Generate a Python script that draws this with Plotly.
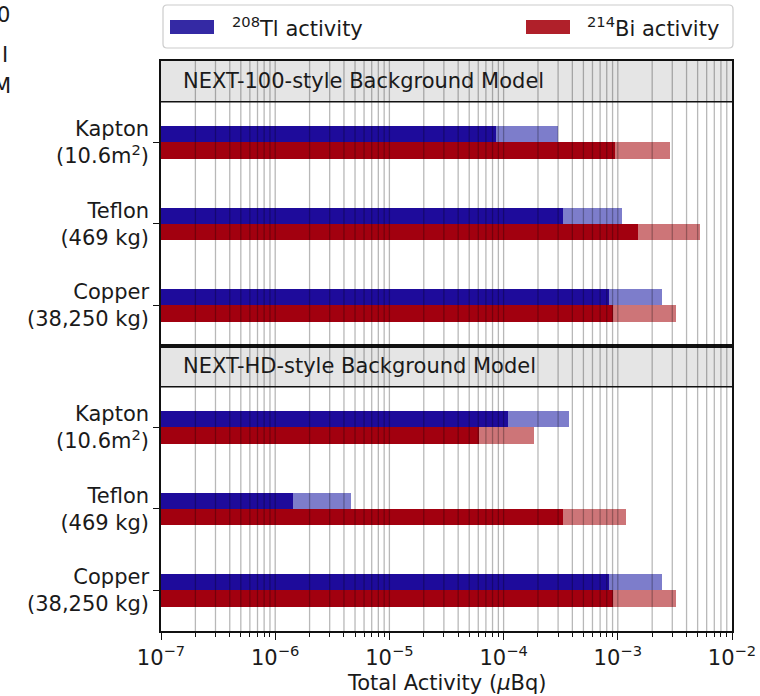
import plotly.graph_objects as go

# ---- data -------------------------------------------------------------
materials = ["Kapton<br>(10.6m<sup>2</sup>)", "Teflon<br>(469 kg)", "Copper<br>(38,250 kg)"]
positions = [2, 1, 0]

panel_titles = ["NEXT-100-style Background Model", "NEXT-HD-style Background Model"]

# NEXT-100-style model (µBq)
tl_100_central = [8.6e-5, 3.3e-4, 8.4e-4]
tl_100_upper = [3.0e-4, 1.08e-3, 2.43e-3]
bi_100_central = [9.5e-4, 1.51e-3, 9.1e-4]
bi_100_upper = [2.84e-3, 5.26e-3, 3.26e-3]

# NEXT-HD-style model (µBq)
tl_hd_central = [1.09e-4, 1.42e-6, 8.4e-4]
tl_hd_upper = [3.75e-4, 4.6e-6, 2.43e-3]
bi_hd_central = [6.1e-5, 3.33e-4, 9.1e-4]
bi_hd_upper = [1.83e-4, 1.17e-3, 3.26e-3]

x_tick_exponents = [-7, -6, -5, -4, -3, -2]

# ---- styling ----------------------------------------------------------
FONT = "DejaVu Sans"
FS = 21
TXT = "#1a1a1a"
TL_DARK, TL_LIGHT, TL_KEY = "#1e0b9b", "#7d7dcb", "#3429a4"
BI_DARK, BI_LIGHT, BI_KEY = "#a2000f", "#cd7578", "#b0202a"
HEADER_FILL = "#e5e5e5"
AXIS_LINE = "#111111"
GRID = "rgba(0,0,0,0.28)"

W, H = 760, 696
PL, PR, PT, PB = 161, 732, 61, 631


def px_x(p):
    return (p - PL) / (PR - PL)


def px_y(p):
    return (PB - p) / (PB - PT)


fig = go.Figure()

panels = [
    ("x", "y", tl_100_central, tl_100_upper, bi_100_central, bi_100_upper),
    ("x2", "y2", tl_hd_central, tl_hd_upper, bi_hd_central, bi_hd_upper),
]

BAR_W = 0.2
for xa, ya, tl_c, tl_u, bi_c, bi_u in panels:
    for vals, col, off in [
        (tl_u, TL_LIGHT, 0.0),
        (tl_c, TL_DARK, 0.0),
        (bi_u, BI_LIGHT, -BAR_W),
        (bi_c, BI_DARK, -BAR_W),
    ]:
        fig.add_trace(go.Bar(
            x=vals, y=positions, orientation="h",
            width=BAR_W, offset=off,
            marker=dict(color=col, line=dict(width=0)),
            xaxis=xa, yaxis=ya, showlegend=False,
        ))

shapes = []
annotations = []

# grid lines drawn over the bars, one set per panel
grid_x = []
for e in range(-7, -2):
    for k in range(1, 10):
        if k == 1 and e == -7:
            continue
        grid_x.append(k * 10.0 ** e)

for i, (xa, ya) in enumerate([("x", "y"), ("x2", "y2")]):
    dom_x = xa + " domain"
    dom_y = ya + " domain"
    # header band
    shapes.append(dict(type="rect", xref=dom_x, yref=ya, x0=0, x1=1, y0=2.5, y1=3.0,
                       fillcolor=HEADER_FILL, line=dict(width=0), layer="below"))
    for v in grid_x:
        shapes.append(dict(type="line", xref=xa, yref=dom_y, x0=v, x1=v, y0=0, y1=1,
                           line=dict(color=GRID, width=1.3), layer="above"))
    shapes.append(dict(type="line", xref=dom_x, yref=ya, x0=0, x1=1, y0=2.5, y1=2.5,
                       line=dict(color=AXIS_LINE, width=1.5), layer="above"))
    annotations.append(dict(text=panel_titles[i], xref="paper", yref=ya,
                            x=px_x(181), y=2.75, xanchor="left", yanchor="middle",
                            showarrow=False, font=dict(family=FONT, size=FS, color=TXT)))


# legend box with rounded corners
def rounded_rect(x0, y0, x1, y1, r):
    pts = [
        f"M {px_x(x0 + r)},{px_y(y0)}",
        f"L {px_x(x1 - r)},{px_y(y0)}",
        f"Q {px_x(x1)},{px_y(y0)} {px_x(x1)},{px_y(y0 + r)}",
        f"L {px_x(x1)},{px_y(y1 - r)}",
        f"Q {px_x(x1)},{px_y(y1)} {px_x(x1 - r)},{px_y(y1)}",
        f"L {px_x(x0 + r)},{px_y(y1)}",
        f"Q {px_x(x0)},{px_y(y1)} {px_x(x0)},{px_y(y1 - r)}",
        f"L {px_x(x0)},{px_y(y0 + r)}",
        f"Q {px_x(x0)},{px_y(y0)} {px_x(x0 + r)},{px_y(y0)}",
        "Z",
    ]
    return " ".join(pts)


shapes.append(dict(type="path", xref="paper", yref="paper", path=rounded_rect(163, 5, 733, 48, 4),
                   fillcolor="white", line=dict(color="#cccccc", width=1.2), layer="above"))
for (x0, x1), col in [((170, 214), TL_KEY), ((526, 570), BI_KEY)]:
    shapes.append(dict(type="rect", xref="paper", yref="paper",
                       x0=px_x(x0), x1=px_x(x1), y0=px_y(34), y1=px_y(20),
                       fillcolor=col, line=dict(width=0), layer="above"))
for x0, txt in [(230, "<sup>208</sup>Tl activity"), (585, "<sup>214</sup>Bi activity")]:
    annotations.append(dict(text=txt, xref="paper", yref="paper", x=px_x(x0), y=px_y(27),
                            xanchor="left", yanchor="middle", showarrow=False,
                            font=dict(family=FONT, size=FS, color=TXT)))

# labels running in from the left page edge
for x0, yc, txt in [(-5, 15, "0"), (0, 55, "I"), (-9, 86, "M")]:
    annotations.append(dict(text=txt, xref="paper", yref="paper", x=px_x(x0), y=px_y(yc),
                            xanchor="left", yanchor="middle", showarrow=False,
                            font=dict(family=FONT, size=FS, color=TXT)))

# x-axis title
annotations.append(dict(text="Total Activity (<i>\u03bc</i>Bq)", xref="paper", yref="paper",
                        x=0.5, y=px_y(683), xanchor="center", yanchor="middle",
                        showarrow=False, font=dict(family=FONT, size=FS, color=TXT)))

common_y = dict(range=[-0.5, 3.0], tickvals=positions, ticktext=materials,
                ticks="outside", ticklen=6, tickwidth=1.3, tickcolor=AXIS_LINE,
                showline=True, mirror=True, linecolor=AXIS_LINE, linewidth=1.5,
                showgrid=False, zeroline=False, fixedrange=True, automargin=False,
                tickfont=dict(family=FONT, size=FS, color=TXT))

common_x = dict(type="log", range=[-7, -2], showline=True, mirror=True, automargin=False,
                linecolor=AXIS_LINE, linewidth=1.5, showgrid=False, zeroline=False)

fig.update_layout(
    width=W, height=H,
    margin=dict(l=PL, r=W - PR, t=PT, b=H - PB, pad=0, autoexpand=False),
    paper_bgcolor="white", plot_bgcolor="white",
    barmode="overlay", bargap=0,
    showlegend=False,
    font=dict(family=FONT, size=FS, color=TXT),
    xaxis=dict(**common_x, anchor="y", domain=[0, 1], showticklabels=False, ticks=""),
    yaxis=dict(**common_y, anchor="x", domain=[0.5, 1]),
    xaxis2=dict(**common_x, anchor="y2", domain=[0, 1],
                tickvals=[10.0 ** e for e in x_tick_exponents],
                ticktext=[f"10<sup>\u2212{-e}</sup>" for e in x_tick_exponents],
                ticks="outside", ticklen=7, tickwidth=1.3, tickcolor=AXIS_LINE,
                minor=dict(ticks="outside", ticklen=4, tickwidth=1, tickcolor=AXIS_LINE,
                           tickvals=grid_x),
                tickfont=dict(family=FONT, size=FS, color=TXT)),
    yaxis2=dict(**common_y, anchor="x2", domain=[0, 0.5]),
    shapes=shapes,
    annotations=annotations,
)

fig.write_html("out.html")
